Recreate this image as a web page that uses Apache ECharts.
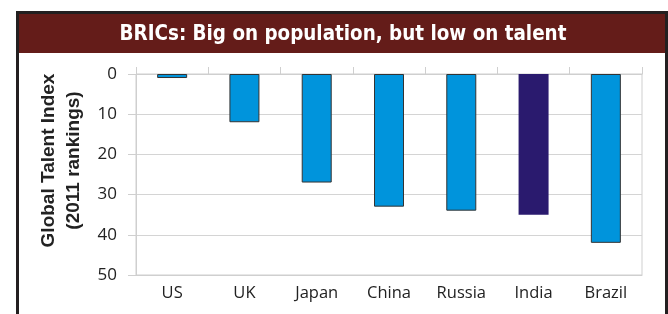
<!DOCTYPE html>
<html>
<head>
<meta charset="utf-8">
<script src="https://cdn.jsdelivr.net/npm/echarts@6/dist/echarts.min.js"></script>
<style>
  html, body { margin: 0; padding: 0; background: #fff; }
  #chart { width: 668px; height: 314px; }
</style>
</head>
<body>
<div id="chart"></div>
<script>
// data
var countries = ['US', 'UK', 'Japan', 'China', 'Russia', 'India', 'Brazil'];
var rankings = [1, 12, 27, 33, 34, 35, 42];
var highlight = 'India';
var yTicks = [0, 10, 20, 30, 40, 50];

var blue = '#0094dc';
var purple = '#2a1a6e';

var barData = [];
for (var i = 0; i < countries.length; i++) {
    var hot = countries[i] == highlight;
    barData.push({
        value: rankings[i],
        itemStyle: {
            color: hot ? purple : blue,
            borderColor: hot ? purple : '#333',
            borderWidth: hot ? 0 : 1
        }
    });
}

var chart = echarts.init(document.getElementById('chart'));
var option = {
    animation: false,
    backgroundColor: '#fff',
    graphic: [
        {   // dark frame
            type: 'rect', z: 0,
            shape: { x: 17.5, y: 12.5, width: 649, height: 320 },
            style: { fill: 'none', stroke: '#231f20', lineWidth: 3 }
        },
        {   // title band
            type: 'rect', z: 0,
            shape: { x: 19, y: 14, width: 646, height: 39 },
            style: { fill: '#641c19' }
        }
    ],
    title: {
        text: 'BRICs: Big on population, but low on talent',
        left: 338,
        top: 20,
        textAlign: 'center',
        textStyle: {
            color: '#fff',
            fontFamily: 'DejaVu Sans Condensed',
            fontWeight: 'bold',
            fontSize: 20.4
        }
    },
    grid: {
        left: 136, top: 74, width: 506, height: 201,
        show: true, borderColor: '#cfcfcf', borderWidth: 1
    },
    xAxis: [
        {
            type: 'category',
            data: countries,
            position: 'bottom',
            axisLine: { onZero: false, lineStyle: { color: '#cfcfcf' } },
            axisTick: { show: false },
            axisLabel: { color: '#222', fontSize: 16.5, margin: 10, fontFamily: 'Open Sans' }
        },
        {
            type: 'category',
            data: countries,
            position: 'top',
            axisLine: { onZero: false, lineStyle: { color: '#cfcfcf' } },
            axisTick: { show: true, length: 7, lineStyle: { color: '#cfcfcf' } },
            axisLabel: { show: false }
        }
    ],
    yAxis: {
        type: 'value',
        inverse: true,
        min: yTicks[0],
        max: yTicks[yTicks.length - 1],
        interval: 10,
        name: 'Global Talent Index\n(2011 rankings)',
        nameLocation: 'middle',
        nameGap: 45,
        nameTextStyle: {
            color: '#222',
            fontSize: 19,
            fontWeight: 'bold',
            fontFamily: 'Liberation Sans',
            lineHeight: 25,
            padding: [0, 0, 0, 28]
        },
        axisLine: { show: true, lineStyle: { color: '#cfcfcf' } },
        axisTick: { show: true, length: 8, lineStyle: { color: '#cfcfcf' } },
        axisLabel: { color: '#222', fontSize: 17, margin: 19, fontFamily: 'Open Sans' },
        splitLine: { lineStyle: { color: '#d4d4d4' } }
    },
    series: [
        {
            type: 'bar',
            xAxisIndex: 0,
            barWidth: 30,
            data: barData
        }
    ]
};
chart.setOption(option);
</script>
</body>
</html>
